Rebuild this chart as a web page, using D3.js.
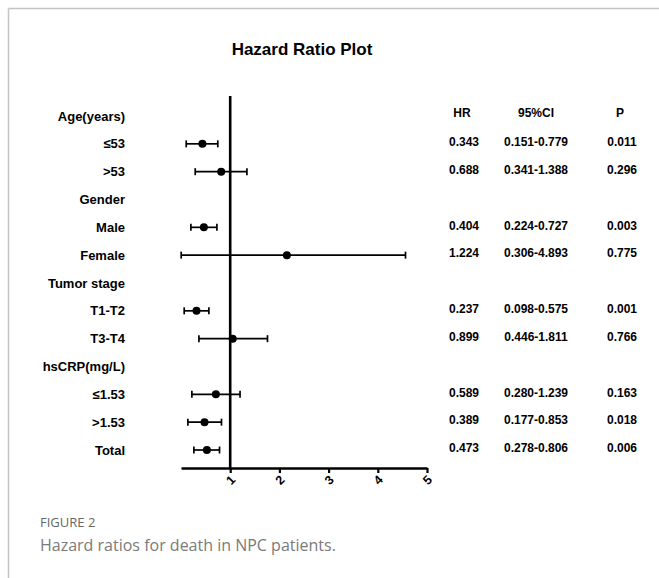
<!DOCTYPE html>
<html>
<head>
<meta charset="utf-8">
<script src="https://cdn.jsdelivr.net/npm/d3@7"></script>
<style>
  html, body { margin: 0; padding: 0; background: #fff; }
  svg { display: block; }
</style>
</head>
<body>
<svg id="chart" width="659" height="578"></svg>
<script>
// ---- data ----
const rowLabels = ["Age(years)", "≤53", ">53", "Gender", "Male", "Female", "Tumor stage",
                   "T1-T2", "T3-T4", "hsCRP(mg/L)", "≤1.53", ">1.53", "Total"];
// plotted positions (header rows have no marks)
const hrPlot   = [null, 0.435, 0.817, null, 0.465, 2.152, null, 0.315, 1.05, null, 0.709, 0.478, 0.526];
const lowPlot  = [null, 0.106, 0.289, null, 0.201, 0.004, null, 0.065, 0.364, null, 0.221, 0.140, 0.262];
const highPlot = [null, 0.748, 1.340, null, 0.730, 4.563, null, 0.567, 1.758, null, 1.200, 0.823, 0.783];
// table text
const hrText = ["", "0.343", "0.688", "", "0.404", "1.224", "", "0.237", "0.899", "", "0.589", "0.389", "0.473"];
const ciText = ["", "0.151-0.779", "0.341-1.388", "", "0.224-0.727", "0.306-4.893", "", "0.098-0.575", "0.446-1.811", "", "0.280-1.239", "0.177-0.853", "0.278-0.806"];
const pText  = ["", "0.011", "0.296", "", "0.003", "0.775", "", "0.001", "0.766", "", "0.163", "0.018", "0.006"];
const tableHeaders = ["HR", "95%CI", "P"];
const xTicks = [1, 2, 3, 4, 5];
const xDomain = [0, 5];
const title = "Hazard Ratio Plot";
const figLabel = "FIGURE 2";
const caption = "Hazard ratios for death in NPC patients.";

// ---- drawing ----
const svg = d3.select("#chart");
const font = "'Liberation Sans', Arial, sans-serif";

// frame lines
svg.append("line").attr("x1", 8.5).attr("x2", 659).attr("y1", 8.5).attr("y2", 8.5)
  .attr("stroke", "#c4c4c4").attr("stroke-width", 1.5);
svg.append("line").attr("x1", 8.5).attr("x2", 8.5).attr("y1", 8.5).attr("y2", 578)
  .attr("stroke", "#c4c4c4").attr("stroke-width", 1.5);

const x = d3.scaleLinear().domain(xDomain).range([181, 427]);
const y = d3.scalePoint().domain(d3.range(rowLabels.length)).range([116, 450]);
const axisY = 468;

// title
svg.append("text").attr("x", 302).attr("y", 55).attr("text-anchor", "middle")
  .attr("font-family", font).attr("font-weight", "bold").attr("font-size", 17)
  .text(title);

// row labels
svg.append("g").selectAll("text").data(rowLabels).join("text")
  .attr("x", 125).attr("y", (d, i) => y(i)).attr("dy", "0.35em")
  .attr("text-anchor", "end").attr("font-family", font).attr("font-weight", "bold")
  .attr("font-size", 13).text(d => d);

// x axis
const axis = d3.axisBottom(x).tickValues(xTicks).tickSize(5).tickSizeOuter(0).tickFormat(d3.format("d"));
const gx = svg.append("g").attr("transform", `translate(0,${axisY})`).call(axis);
gx.select(".domain").attr("stroke", "#000").attr("stroke-width", 2.6);
gx.selectAll(".tick line").attr("stroke", "#000").attr("stroke-width", 2.2);
gx.selectAll(".tick text")
  .attr("font-family", font).attr("font-weight", "bold").attr("font-size", 12.5)
  .attr("fill", "#000")
  .attr("y", 0).attr("dy", 0)
  .attr("text-anchor", "middle")
  .attr("transform", "translate(3,15) rotate(-45)");

// vertical reference line at HR = 1
svg.append("line").attr("x1", x(1)).attr("x2", x(1)).attr("y1", 96).attr("y2", axisY + 1)
  .attr("stroke", "#000").attr("stroke-width", 2.6);

// CI whiskers
const idx = d3.range(rowLabels.length).filter(i => hrPlot[i] !== null);
const marks = svg.append("g");
marks.selectAll("line.ci").data(idx).join("line").attr("class", "ci")
  .attr("x1", i => x(lowPlot[i])).attr("x2", i => x(highPlot[i]))
  .attr("y1", i => y(i)).attr("y2", i => y(i))
  .attr("stroke", "#000").attr("stroke-width", 1.7);
marks.selectAll("line.capl").data(idx).join("line").attr("class", "capl")
  .attr("x1", i => x(lowPlot[i])).attr("x2", i => x(lowPlot[i]))
  .attr("y1", i => y(i) - 3.5).attr("y2", i => y(i) + 3.5)
  .attr("stroke", "#000").attr("stroke-width", 1.7);
marks.selectAll("line.caph").data(idx).join("line").attr("class", "caph")
  .attr("x1", i => x(highPlot[i])).attr("x2", i => x(highPlot[i]))
  .attr("y1", i => y(i) - 3.5).attr("y2", i => y(i) + 3.5)
  .attr("stroke", "#000").attr("stroke-width", 1.7);
marks.selectAll("circle").data(idx).join("circle")
  .attr("cx", i => x(hrPlot[i])).attr("cy", i => y(i)).attr("r", 4)
  .attr("fill", "#000");

// table
const colX = [464, 536, 622];
const table = svg.append("g").attr("font-family", font).attr("font-weight", "bold")
  .attr("font-size", 12).attr("text-anchor", "middle");
table.selectAll("text.h").data(tableHeaders).join("text").attr("class", "h")
  .attr("x", (d, i) => colX[i] - (i === 0 ? 2 : (i === 2 ? 2 : 0)))
  .attr("y", y(0) - 3).attr("dy", "0.35em").text(d => d);
[hrText, ciText, pText].forEach((col, c) => {
  table.selectAll("text.c" + c).data(col).join("text").attr("class", "c" + c)
    .attr("x", colX[c]).attr("y", (d, i) => y(i) - 2).attr("dy", "0.35em").text(d => d);
});

// caption
svg.append("text").attr("x", 40).attr("y", 527)
  .attr("font-family", "'Open Sans', sans-serif").attr("font-size", 13)
  .attr("fill", "#666").text(figLabel);
svg.append("text").attr("x", 40).attr("y", 551)
  .attr("font-family", "'Open Sans', sans-serif").attr("font-size", 16)
  .attr("fill", "#7a7a7a").text(caption);
</script>
</body>
</html>
